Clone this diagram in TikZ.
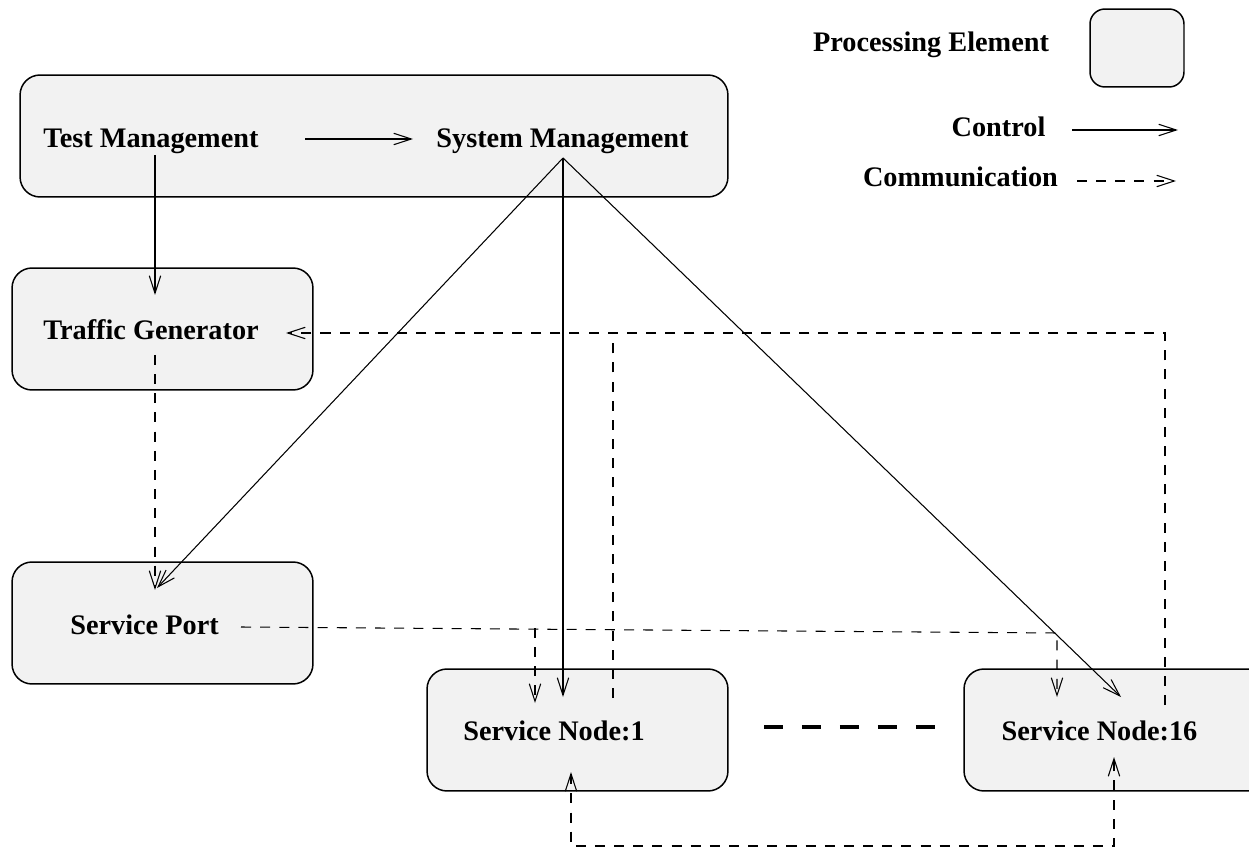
\documentclass[tikz,border=0pt]{standalone}
\usepackage{fontspec}
\setmainfont{Liberation Serif}
\usetikzlibrary{arrows.meta}
\definecolor{boxgray}{HTML}{F2F2F2}
\begin{document}
\begin{tikzpicture}[x=0.02cm,y=-0.02cm,
  pe/.style={draw=black,fill=boxgray,line width=0.85pt,rounded corners=0.4cm,inner sep=0pt},
  lbl/.style={inner sep=0pt,anchor=base,font=\fontsize{16.1}{19}\selectfont\bfseries},
  barb/.tip={Straight Barb[length=10pt,width=6.5pt,line width=0.6pt]},
  tip/.style={-barb},
  ctrl/.style={line width=0.6pt,tip},
  comm/.style={line width=0.6pt,dash pattern=on 5.7pt off 5.2pt},
  commarrow/.style={comm,tip},
  sepdash/.style={line width=2.8pt,dash pattern=on 10.8pt off 10.8pt}]
\useasboundingbox (0,0) rectangle (1249,851);
\clip (0,0) rectangle (1249,851);
% processing element boxes
\node[pe,minimum width=14.16cm,minimum height=2.44cm] (top) at (374,136) {};
\node[pe,minimum width=6.02cm,minimum height=2.44cm] (tgbox) at (162.5,329) {};
\node[pe,minimum width=6.02cm,minimum height=2.44cm] (spbox) at (162.5,623) {};
\node[pe,minimum width=6.02cm,minimum height=2.44cm] (sn1box) at (577.5,730) {};
\node[pe,minimum width=6.12cm,minimum height=2.44cm] (sn16box) at (1117,730) {};
\node[pe,rounded corners=0.3cm,minimum width=1.88cm,minimum height=1.56cm] (legbox) at (1137,48) {};
% labels
\node[lbl] (tm) at (151,148) {Test Management};
\node[lbl] (sm) at (562.5,148) {System Management};
\node[lbl] (tg) at (151,340) {Traffic Generator};
\node[lbl] (sp) at (144.5,634) {Service Port};
\node[lbl] (sn1) at (554,740) {Service Node:1};
\node[lbl] (sn16) at (1099.5,740) {Service Node:16};
\node[lbl] (lpe) at (931,52) {Processing Element};
\node[lbl] (lctrl) at (998.5,137) {Control};
\node[lbl] (lcomm) at (960.5,187) {Communication};
% coordinates
\coordinate (tmE) at (305,139);
\coordinate (smW) at (413,139);
\coordinate (tmS) at (155,155);
\coordinate (tgN) at (155,295);
\coordinate (smS) at (563,158);
\coordinate (spN) at (157,588);
\coordinate (sn1N) at (563,697);
\coordinate (sn16N) at (1121,697);
\coordinate (tgS) at (155,355);
\coordinate (spN2) at (155,590);
\coordinate (spE) at (241,627);
\coordinate (j1) at (535,628);
\coordinate (sn1in) at (535,703);
\coordinate (j2) at (1057,633);
\coordinate (sn16in) at (1057,697);
\coordinate (sn1out) at (613,698);
\coordinate (k1) at (613,333);
\coordinate (sn16out) at (1165,705);
\coordinate (k2) at (1165,333);
\coordinate (tgE) at (286,333);
\coordinate (sn1up) at (571,772);
\coordinate (b1) at (571,846);
\coordinate (b2) at (1114,846);
\coordinate (sn16up) at (1114,757);
\coordinate (d1) at (764,727);
\coordinate (d2) at (936,727);
\coordinate (lc1) at (1072,130);
\coordinate (lc2) at (1178,130);
\coordinate (lm1) at (1077,181);
\coordinate (lm2) at (1176,181);
% control connectors
\draw[ctrl] (tmE) -- (smW);
\draw[ctrl] (tmS) -- (tgN);
\draw[ctrl] (smS) -- (spN);
\draw[ctrl] (smS) -- (sn1N);
\draw[ctrl] (smS) -- (sn16N);
% communication connectors
\draw[commarrow] (tgS) -- (spN2);
\draw[commarrow] (spE) -- (j2) -- (sn16in);
\draw[commarrow] (j1) -- (sn1in);
\draw[comm] (sn1out) -- (k1);
\draw[commarrow] (sn16out) -- (k2) -- (tgE);
\draw[comm,barb-barb] (sn1up) -- (b1) -- (b2) -- (sn16up);
\draw[sepdash] (d1) -- (d2);
% legend
\draw[ctrl] (lc1) -- (lc2);
\draw[commarrow] (lm1) -- (lm2);
\end{tikzpicture}
\end{document}
